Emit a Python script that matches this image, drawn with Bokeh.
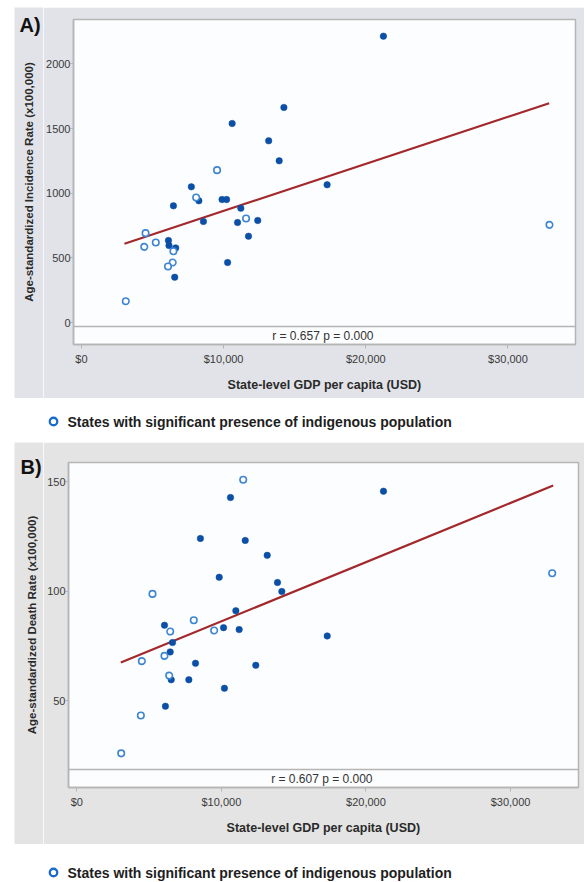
import math
from bokeh.plotting import figure
from bokeh.layouts import column, row
from bokeh.models import Range1d, FixedTicker, Span, Label
from bokeh.core.properties import value
from bokeh.embed import file_html
from bokeh.resources import INLINE

# ---------------- data ----------------
x_ticks = [0, 10000, 20000, 30000]
x_tick_labels = ["$0", "$10,000", "$20,000", "$30,000"]
y_ticks_a = [0, 500, 1000, 1500, 2000]
y_ticks_b = [50, 100, 150]

# Panel A: incidence
gdp_a_other = [10600, 13170, 13910, 14240, 7730, 21240, 17280, 8260, 6470, 9890, 10210,
               11210, 10980, 12400, 11750, 8580, 6120, 6160, 6630, 10280, 6560]
inc_a_other = [1539, 1405, 1250, 1663, 1049, 2214, 1065, 941, 902, 951, 951,
               884, 773, 789, 667, 781, 634, 595, 577, 464, 350]
gdp_a_indig = [9540, 32920, 8070, 11580, 4510, 5230, 4420, 6470, 6420, 6090, 3120]
inc_a_indig = [1178, 755, 967, 804, 691, 619, 585, 551, 464, 433, 165]
fit_a_x = [3025, 32900]
fit_a_y = [609, 1696]
stat_a = "r = 0.657  p = 0.000"

# Panel B: death
gdp_b_other = [10630, 8550, 11650, 13170, 9850, 13880, 14180, 11000, 6065, 10150, 11230,
               21210, 17320, 6620, 6460, 8210, 12380, 6530, 7750, 10210, 6130]
dth_b_other = [142.7, 124.0, 123.1, 116.3, 106.3, 103.9, 99.8, 91.0, 84.4, 83.3, 82.4,
               145.6, 79.5, 76.5, 72.2, 67.0, 66.1, 59.5, 59.5, 55.6, 47.4]
gdp_b_indig = [11510, 5235, 8090, 6460, 9500, 32880, 6065, 4500, 6390, 4430, 3070]
dth_b_indig = [150.8, 98.7, 86.7, 81.5, 82.0, 108.1, 70.4, 68.0, 61.4, 43.2, 25.9]
fit_b_x = [3045, 32950]
fit_b_y = [67.4, 148.2]
stat_b = "r = 0.607  p = 0.000"

x_title = "State-level GDP per capita (USD)"
y_title_a = "Age-standardized Incidence Rate (x100,000)"
y_title_b = "Age-standardized Death Rate (x100,000)"
legend_text = "States with significant presence of indigenous population"

# ---------------- styles ----------------
FONT = "Liberation Sans"
FILLED = "#0b4fa6"
RING = "#3f86d2"
FIT = "#a3282b"
FRAME = "#b5b5b5"
STRIP_W = 29


def strip(height, top_margin, bg, tag, tag_xy, ytitle, ytitle_xy):
    """Left gray strip holding the panel tag and the rotated y-axis title."""
    s = figure(width=STRIP_W, height=height, output_backend="svg", toolbar_location=None,
               x_range=Range1d(0, STRIP_W), y_range=Range1d(0, height),
               x_axis_type=None, y_axis_type=None, min_border=0,
               min_border_left=0, min_border_right=0, min_border_top=0, min_border_bottom=0)
    s.margin = (top_margin, 0, 0, 14)
    s.outline_line_color = None
    s.border_fill_color = bg
    s.background_fill_color = bg
    s.grid.visible = False
    s.text([tag_xy[0]], [tag_xy[1]], text=[tag], text_font=value(FONT),
           text_font_style="bold", text_font_size="20px", text_color="#111111",
           text_align="left", text_baseline="alphabetic")
    s.text([ytitle_xy[0]], [ytitle_xy[1]], text=[ytitle], angle=math.pi / 2,
           text_font=value(FONT), text_font_style="bold", text_font_size="11.5px",
           text_color="#2a2a2a", text_align="center", text_baseline="middle")
    return column(s)


def panel(height, top_margin, bg, xr, yr, band_top, yticks, stat, stat_y,
          borders, gx, gy, ix, iy, fx, fy):
    p = figure(width=570 - STRIP_W, height=height, output_backend="svg", toolbar_location=None,
               x_range=Range1d(*xr), y_range=Range1d(*yr),
               min_border_left=borders[0], min_border_right=borders[1],
               min_border_top=borders[2], min_border_bottom=borders[3])
    p.margin = (top_margin, 0, 0, 0)
    p.border_fill_color = bg
    p.background_fill_color = "#fcfdfe"
    p.outline_line_color = FRAME
    p.outline_line_width = 1.5
    p.grid.visible = False

    for ax in (p.xaxis[0], p.yaxis[0]):
        ax.axis_line_color = FRAME
        ax.axis_line_width = 1.5
        ax.major_tick_line_color = FRAME
        ax.major_tick_out = 4
        ax.major_tick_in = 0
        ax.minor_tick_line_color = None
        ax.major_label_text_font = FONT
        ax.major_label_text_font_size = "11px"
        ax.major_label_text_color = "#3a3a3a"
        ax.axis_label_text_font = FONT
        ax.axis_label_text_font_style = "bold"
        ax.axis_label_text_font_size = "12.5px"
        ax.axis_label_text_color = "#2a2a2a"

    p.xaxis.ticker = FixedTicker(ticks=x_ticks)
    p.xaxis.major_label_overrides = dict(zip(x_ticks, x_tick_labels))
    p.xaxis.axis_label = x_title
    p.xaxis.major_label_standoff = 4
    p.xaxis.axis_label_standoff = 10

    p.yaxis.ticker = FixedTicker(ticks=yticks)
    p.yaxis.major_tick_out = 3
    p.yaxis.major_label_standoff = 0

    # statistics band
    p.add_layout(Span(location=band_top, dimension="width", line_color=FRAME, line_width=1.5))
    p.add_layout(Label(x=(xr[0] + xr[1]) / 2, y=stat_y, text=stat, text_align="center",
                       text_baseline="middle", text_font=FONT, text_font_size="12px",
                       text_color="#333333"))

    p.line(fx, fy, line_color=FIT, line_width=2.2)
    p.scatter(gx, gy, size=6.5, fill_color=FILLED, line_color=FILLED, line_width=0.5)
    p.scatter(ix, iy, size=6.5, fill_color="white", line_color=RING, line_width=1.6)
    return p


def legend_fig(height, cy):
    p = figure(width=570, height=height, output_backend="svg", toolbar_location=None,
               x_range=Range1d(0, 570), y_range=Range1d(0, height),
               x_axis_type=None, y_axis_type=None, min_border=0,
               min_border_left=0, min_border_right=0, min_border_top=0, min_border_bottom=0)
    p.margin = (0, 0, 0, 14)
    p.outline_line_color = None
    p.grid.visible = False
    p.scatter([39], [cy], size=7.5, fill_color="white", line_color="#1a6ccc", line_width=2.3)
    p.text([53], [cy], text=[legend_text], text_font=value(FONT), text_font_style="bold",
           text_font_size="14px", text_color="#1e1e1e", text_baseline="middle",
           text_align="left")
    return row(p)


BG_A = "#e1e3e8"
BG_B = "#e4e4e4"

strip_a = strip(391, 7, BG_A, "A)", (5, 373.5), y_title_a, (14, 216.5))
fig_a = panel(391, 7, BG_A, (-558, 34750), (-170, 2343), -31, y_ticks_a, stat_a, -105,
              (26, 9, 12, 54), gdp_a_other, inc_a_other, gdp_a_indig, inc_a_indig,
              fit_a_x, fit_a_y)
leg_a = legend_fig(44, 21)

strip_b = strip(402, 0, BG_B, "B)", (6, 378), y_title_b, (17, 219.5))
fig_b = panel(402, 0, BG_B, (-574, 34700), (10.3, 158.7), 18.5, y_ticks_b, stat_b, 14.0,
              (25, 6, 20, 57), gdp_b_other, dth_b_other, gdp_b_indig, dth_b_indig,
              fit_b_x, fit_b_y)
leg_b = legend_fig(37, 9)

layout = column(row(strip_a, fig_a, spacing=0), leg_a,
                row(strip_b, fig_b, spacing=0), leg_b, spacing=0)
open("out.html", "w").write(file_html(layout, INLINE))
